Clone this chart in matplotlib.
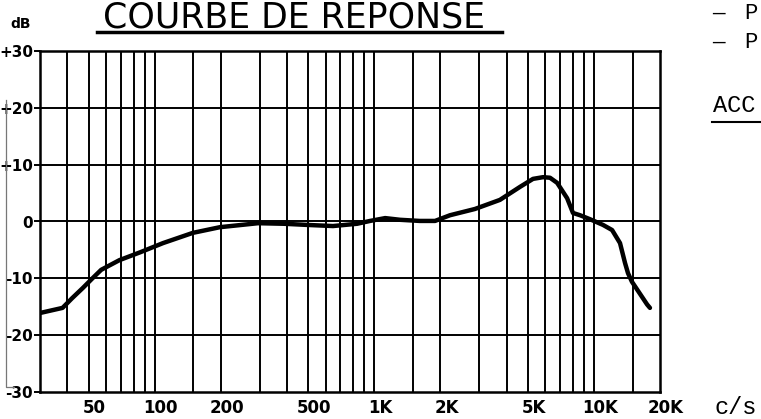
import matplotlib
matplotlib.use("Agg")
import matplotlib.pyplot as plt
import matplotlib.transforms as mtransforms
from matplotlib.lines import Line2D
from matplotlib.ticker import NullLocator, NullFormatter

# courbe de réponse relevée (Hz, dB)
freq_hz = [30, 38, 42, 47, 52, 57, 69, 86, 109, 149, 198, 295, 388, 493,
           648, 834, 956, 1120, 1310, 1610, 1890, 2210, 2870, 3730, 4610,
           5280, 5870, 6310, 6800, 7550, 8030, 8650, 9600, 11000, 12100,
           13150, 13860, 14300, 14900, 17470, 18000]
level_db = [-16.1, -15.2, -13.5, -11.7, -10.0, -8.5, -6.8, -5.4, -3.8, -2.0,
            -1.0, -0.3, -0.4, -0.6, -0.8, -0.4, 0.1, 0.6, 0.3, 0.1, 0.1, 1.1,
            2.2, 3.8, 6.1, 7.5, 7.8, 7.7, 6.8, 4.1, 1.5, 1.1, 0.4, -0.6, -1.5,
            -3.8, -7.3, -9.1, -10.6, -14.6, -15.2]

# quadrillage du papier
grid_freqs = [40, 50, 60, 70, 80, 90, 100, 150, 200, 300, 400, 500, 600, 700,
              800, 900, 1000, 1500, 2000, 3000, 4000, 5000, 6000, 7000, 8000,
              9000, 10000, 15000]
grid_db = [-20, -10, 0, 10, 20]

x_ticks = [50, 100, 200, 500, 1000, 2000, 5000, 10000, 20000]
x_labels = ["50", "100", "200", "500", "1K", "2K", "5K", "10K", "20K"]
y_ticks = [-30, -20, -10, 0, 10, 20, 30]
y_labels = ["-30", "-20", "-10", "0", "+10", "+20", "+30"]

W, H = 761, 419


def fx(px):
    return px / W


def fy(py):
    return 1 - py / H


fig = plt.figure(figsize=(W / 100, H / 100), dpi=100)
fig.patch.set_facecolor("white")

ax = fig.add_axes([fx(40), fy(392), (660 - 40) / W, (392 - 51) / H])
ax.set_xscale("log")
ax.set_xlim(30, 20000)
ax.set_ylim(-30, 30)

for f in grid_freqs:
    ax.axvline(f, color="black", lw=1.4, zorder=1)
for d in grid_db:
    ax.axhline(d, color="black", lw=1.4, zorder=1)

ax.plot(freq_hz, level_db, color="black", lw=3.2, solid_capstyle="round",
        solid_joinstyle="round", zorder=3)

for sp in ax.spines.values():
    sp.set_linewidth(1.8)

ax.xaxis.set_minor_locator(NullLocator())
ax.xaxis.set_minor_formatter(NullFormatter())
ax.set_xticks(x_ticks)
ax.set_xticklabels(x_labels, fontsize=12, fontweight="bold")
ax.tick_params(axis="x", length=0, pad=5)
offset = mtransforms.ScaledTranslation(6 / 100, 0, fig.dpi_scale_trans)
for lab in ax.get_xticklabels():
    lab.set_transform(lab.get_transform() + offset)

ax.set_yticks(y_ticks)
ax.set_yticklabels(y_labels, fontsize=11, fontweight="bold")
ax.tick_params(axis="y", length=4, width=1.4, pad=1)

# textes autour du graphique
fig.text(fx(10), fy(28), "dB", fontsize=10, fontweight="bold", ha="left",
         va="baseline")
fig.text(fx(736), fy(414), "c/s", fontsize=17, family="Liberation Mono",
         ha="center", va="baseline")
fig.text(fx(103), fy(27), "COURBE DE REPONSE", fontsize=25, ha="left",
         va="baseline")
fig.add_artist(Line2D([fx(97), fx(502)], [fy(31.5), fy(31.5)], color="black",
                      lw=2.5))

for base in (19, 48):
    fig.text(fx(712), fy(base), "—", fontsize=15, family="Liberation Mono",
             ha="left", va="baseline")
    fig.text(fx(744), fy(base), "P", fontsize=16, family="Liberation Mono",
             ha="left", va="baseline")
fig.text(fx(713), fy(112), "ACC", fontsize=17, family="Liberation Mono",
         ha="left", va="baseline")
fig.add_artist(Line2D([fx(712), fx(761)], [fy(122), fy(122)], color="black",
                      lw=1.5))

# trait de marge à gauche
fig.add_artist(Line2D([fx(6), fx(6), fx(14)], [fy(100), fy(387), fy(387)],
                      color="#777777", lw=0.9))

fig.savefig("out.png", dpi=100, facecolor="white")
